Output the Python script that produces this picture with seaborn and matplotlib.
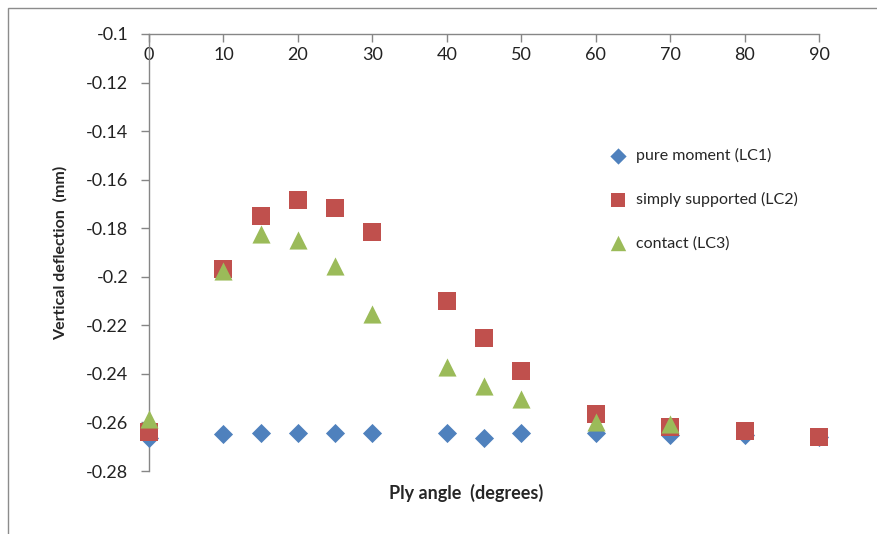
import matplotlib
matplotlib.use('Agg')
import matplotlib.pyplot as plt
import numpy as np
import pandas as pd
import seaborn as sns
from matplotlib.patches import Rectangle

# ==================== DATA ====================
ply_angle = [0, 10, 15, 20, 25, 30, 40, 45, 50, 60, 70, 80, 90]
contact_angle = [0, 10, 15, 20, 25, 30, 40, 45, 50, 60, 70]

pure_moment = [-0.2665, -0.2648, -0.2644, -0.2644, -0.2644, -0.2644, -0.2644,
               -0.2665, -0.2644, -0.2644, -0.2652, -0.2650, -0.2660]
simply_supported = [-0.2640, -0.1967, -0.1748, -0.1685, -0.1715, -0.1815, -0.2100,
                    -0.2253, -0.2387, -0.2565, -0.2617, -0.2636, -0.2660]
contact = [-0.2585, -0.1978, -0.1823, -0.1848, -0.1955, -0.2155, -0.2372,
           -0.2448, -0.2503, -0.2598, -0.2608]

series_names = ['pure moment (LC1)', 'simply supported (LC2)', 'contact (LC3)']
colors = ['#4F81BD', '#C0504D', '#9BBB59']
markers = ['D', 's', '^']
sizes = [95, 150, 170]

y_ticks = [-0.1, -0.12, -0.14, -0.16, -0.18, -0.2, -0.22, -0.24, -0.26, -0.28]
x_ticks = [0, 10, 20, 30, 40, 50, 60, 70, 80, 90]

df = pd.concat([
    pd.DataFrame({'angle': ply_angle, 'defl': pure_moment, 'case': series_names[0]}),
    pd.DataFrame({'angle': ply_angle, 'defl': simply_supported, 'case': series_names[1]}),
    pd.DataFrame({'angle': contact_angle, 'defl': contact, 'case': series_names[2]}),
])

# ==================== PLOT ====================
sns.set_style('white')
plt.rcParams['font.family'] = ['Lato', 'DejaVu Sans']

fig = plt.figure(figsize=(8.77, 5.34), dpi=100)
ax = fig.add_axes([149/877, 1 - 471/534, (819 - 149)/877, (471 - 34)/534])

for name, col, mk, sz in zip(series_names, colors, markers, sizes):
    sub = df[df['case'] == name]
    sns.scatterplot(data=sub, x='angle', y='defl', color=col, marker=mk, s=sz,
                    linewidth=0, ax=ax, label=name, zorder=3, clip_on=False)

ax.set_xlim(0, 90)
ax.set_ylim(-0.28, -0.1)
ax.set_yticks(y_ticks)
ax.set_yticklabels([f'{v:g}' for v in y_ticks])
ax.set_xticks(x_ticks)

# x axis sits at the top (y = -0.1), labels just below it
ax.xaxis.set_ticks_position('top')
ax.tick_params(axis='x', direction='in', length=6, color='#868686', width=1,
               labeltop=True, labelbottom=False, pad=-21, labelsize=13, labelcolor='#222222')
ax.tick_params(axis='y', direction='out', length=6, color='#868686', width=1,
               left=True, labelsize=13, labelcolor='#222222', pad=9)

for side in ['right', 'bottom']:
    ax.spines[side].set_visible(False)
for side in ['left', 'top']:
    ax.spines[side].set_color('#868686')
    ax.spines[side].set_linewidth(1)

ax.set_xlabel('')
ax.set_ylabel('Vertical deflection  (mm)', fontsize=11.5, fontweight='bold', labelpad=13)
fig.text(389/877, 1 - 493/534, 'Ply angle  (degrees)',
         fontsize=13, fontweight='bold', ha='left', va='center')

leg = ax.legend(loc='upper left', bbox_to_anchor=(596/877, 1 - 142/534),
                bbox_transform=fig.transFigure, frameon=False, fontsize=11.5,
                handletextpad=0.1, labelspacing=1.8, markerscale=0.85,
                borderaxespad=0)

# outer chart border (only top and left visible)
fig.patches.append(Rectangle((8/877, -0.1), 1.2, 1 - 8/534 + 0.1, transform=fig.transFigure,
                             fill=False, edgecolor='#8c8c8c', linewidth=1))

fig.savefig('out.png', dpi=100)
